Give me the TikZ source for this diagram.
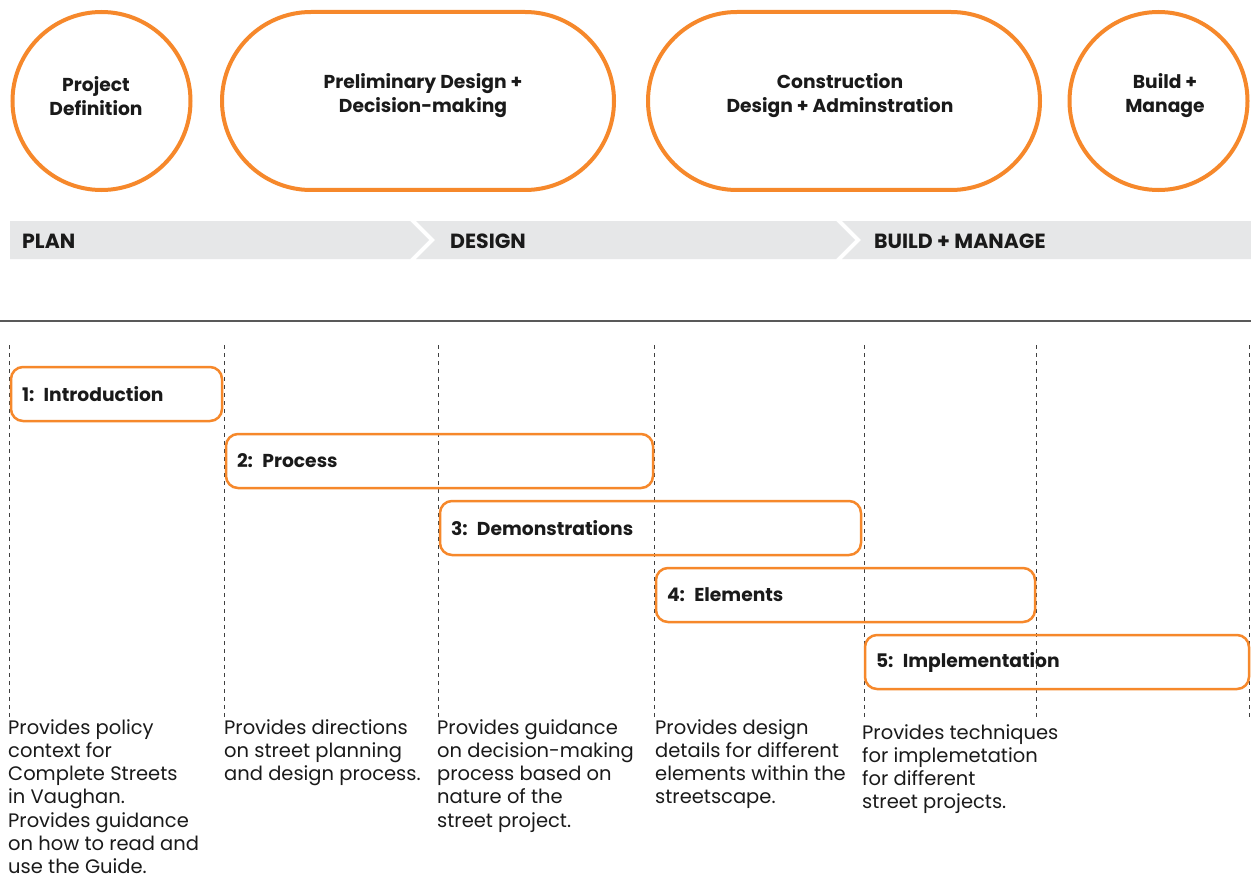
\documentclass[tikz,border=0pt]{standalone}
\usepackage{fontspec}
\setmainfont{Poppins}
\usetikzlibrary{shapes.misc}
\definecolor{org}{HTML}{F6882B}
\definecolor{bandgray}{HTML}{E6E7E8}
\definecolor{ink}{HTML}{1A1A1A}
\begin{document}
\begin{tikzpicture}[x=1pt,y=-1pt,
  every node/.style={text=ink},
  phase/.style={draw=org, line width=4pt, inner sep=0pt},
  stadium/.style={phase, rounded rectangle, minimum width=392pt, minimum height=178pt},
  roundphase/.style={phase, circle, minimum size=178pt},
  phasetext/.style={align=center, inner sep=0pt, font=\fontsize{18.7}{24}\selectfont\bfseries},
  bandlabel/.style={anchor=west, inner sep=0pt, font=\fontsize{20.5}{22}\selectfont\bfseries},
  chapter/.style={draw=org, line width=2.5pt, rounded corners=12pt, minimum height=54pt,
    inner xsep=11pt, inner ysep=0pt, align=left, font=\fontsize{18.7}{22}\selectfont\bfseries},
  desc/.style={anchor=north west, inner sep=0pt, align=left,
    font=\fontsize{19.5}{23.3}\selectfont},
  guide/.style={draw=black!75, line width=0.8pt, dash pattern=on 4pt off 4pt}
]
\useasboundingbox[fill=white] (0,0) rectangle (1251,880);

% top phases
\node[roundphase] (pd) at (101.5,101) {};
\node[stadium] (prelim) at (418,101) {};
\node[stadium] (constr) at (844,101) {};
\node[roundphase] (bm) at (1158.5,101) {};
\node[phasetext] (pdt) at (96,96) {Project\\Definition};
\node[phasetext] (prelimt) at (423,96) {Preliminary Design +\\Decision-making};
\node[phasetext] (constrt) at (840,96) {Construction\\Design + Adminstration};
\node[phasetext] (bmt) at (1165,96) {Build +\\Manage};

% band
\fill[bandgray] (10,221) -- (410,221) -- (429,240) -- (410,259) -- (10,259) -- cycle;
\fill[bandgray] (416,221) -- (836,221) -- (855,240) -- (836,259) -- (416,259) -- (435,240) -- cycle;
\fill[bandgray] (842,221) -- (1251,221) -- (1251,259) -- (842,259) -- (861,240) -- cycle;
\node[bandlabel] (plan) at (22,241) {PLAN};
\node[bandlabel] (design) at (450,241) {DESIGN};
\node[bandlabel] (build) at (874,241) {BUILD + MANAGE};

% rule
\draw[draw=black!65, line width=1.3pt] (0,321) -- (1251,321);

% guides
\foreach \gx in {9,224,438,654,864,1036,1249}
  \draw[guide] (\gx,345) -- (\gx,717);

% chapters
\node[chapter, text width=189pt] (c1) at (116.5,394) {1: Introduction};
\node[chapter, text width=405pt] (c2) at (439.5,461) {2: Process};
\node[chapter, text width=399pt] (c3) at (650.5,528) {3: Demonstrations};
\node[chapter, text width=357pt] (c4) at (845.5,595) {4: Elements};
\node[chapter, text width=362pt] (c5) at (1057,662) {5: Implementation};

% descriptions
\node[desc] (d1) at (8,719) {Provides policy\\context for\\Complete Streets\\in Vaughan.\\Provides guidance\\on how to read and\\use the Guide.};
\node[desc] (d2) at (224,719) {Provides directions\\on street planning\\and design process.};
\node[desc] (d3) at (437,719) {Provides guidance\\on decision-making\\process based on\\nature of the\\street project.};
\node[desc] (d4) at (655,719) {Provides design\\details for different\\elements within the\\streetscape.};
\node[desc] (d5) at (862,724) {Provides techniques\\for implemetation\\for different\\street projects.};
\end{tikzpicture}
\end{document}
